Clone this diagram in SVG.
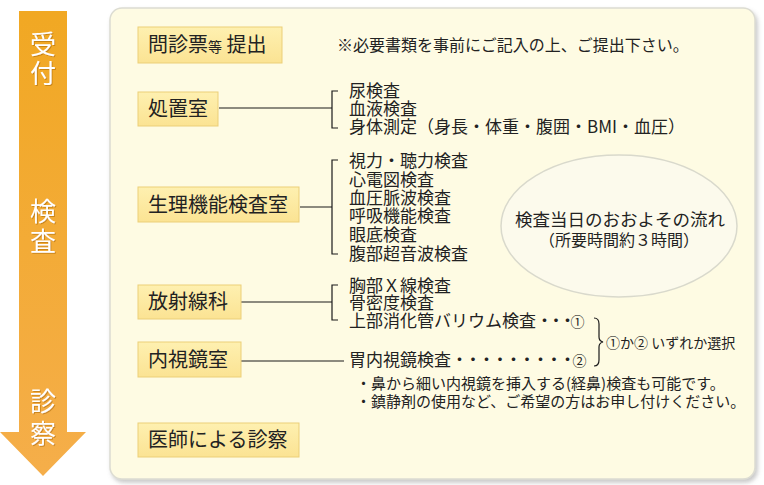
<svg xmlns="http://www.w3.org/2000/svg" width="764" height="485" viewBox="0 0 764 485">
<defs>
<linearGradient id="arrowGrad" x1="0" y1="0" x2="0" y2="1">
<stop offset="0" stop-color="#F1A823"/>
<stop offset="1" stop-color="#F5AE4A"/>
</linearGradient>
<linearGradient id="boxGrad" x1="0" y1="0" x2="0" y2="1">
<stop offset="0" stop-color="#FEF0B0"/>
<stop offset="1" stop-color="#FBE393"/>
</linearGradient>
<filter id="panelShadow" x="-5%" y="-5%" width="110%" height="110%">
<feDropShadow dx="2" dy="3" stdDeviation="2" flood-color="#888" flood-opacity="0.45"/>
</filter>
<filter id="txtShadow" x="-20%" y="-20%" width="140%" height="140%">
<feDropShadow dx="1" dy="1" stdDeviation="0.6" flood-color="#A06000" flood-opacity="0.5"/>
</filter>
</defs>
<style>
text{font-family:"Noto Sans CJK JP","Noto Sans CJK SC",sans-serif;fill:#222;}
.box{fill:url(#boxGrad);stroke:#EBCF78;stroke-width:1;}
.bt{font-size:20px;}
.lt{font-size:17px;}
.nt{font-size:15px;}
.ct{font-size:14px;}
.at{font-size:26px;fill:#fff;text-anchor:middle;}
.ln{stroke:#1a1a1a;stroke-width:1.2;fill:none;}
</style>
<rect width="764" height="485" fill="#ffffff"/>
<g id="flow-arrow">
<path d="M19 11 H67 V432 H86 L43 476 L0 432 H19 Z" fill="url(#arrowGrad)"/>
<g filter="url(#txtShadow)">
<text class="at" x="43" y="54">受</text>
<text class="at" x="43" y="83">付</text>
<text class="at" x="43" y="221">検</text>
<text class="at" x="43" y="251">査</text>
<text class="at" x="43" y="411">診</text>
<text class="at" x="43" y="443">察</text>
</g>
</g>
<g id="panel">
<rect x="110" y="8" width="645" height="471" rx="12" fill="#FEFBE3" stroke="#DCDCD2" stroke-width="1.5" filter="url(#panelShadow)"/>
</g>
<g id="ellipse-note">
<ellipse cx="619" cy="226" rx="118" ry="71" fill="#FCFAEC" stroke="#D9D9CC" stroke-width="1.5"/>
<text x="620" y="226" text-anchor="middle" style="font-size:17.5px">検査当日のおおよその流れ</text>
<text x="619" y="246" text-anchor="middle" style="font-size:16px">（所要時間約３時間）</text>
</g>
<g id="connectors">
<path class="ln" d="M219 108 H332 M338 91 H332 V128 H338"/>
<path class="ln" d="M300 207 H332 M338 160 H332 V254 H338"/>
<path class="ln" d="M241 302 H332 M338 285 H332 V320 H338"/>
<path class="ln" d="M241 361 H344"/>
<path class="ln" d="M594 318 Q599 318 599 324 V337 Q599 341 603 342 Q599 343 599 347 V360 Q599 366 594 366" stroke-width="1.5"/>
</g>
<g id="node-monshin">
<rect class="box" x="138" y="27" width="144" height="36"/>
<text class="bt" x="148" y="52">問診票<tspan style="font-size:14px">等</tspan> 提出</text>
</g>
<text style="font-size:16px" x="337" y="51">※必要書類を事前にご記入の上、ご提出下さい。</text>
<g id="node-shochi">
<rect class="box" x="138" y="92" width="80" height="34"/>
<text class="bt" x="148" y="116">処置室</text>
</g>
<g id="list-shochi">
<text class="lt" x="349" y="97">尿検査</text>
<text class="lt" x="349" y="115">血液検査</text>
<text class="lt" x="349" y="133">身体測定（身長・体重・腹囲・BMI・血圧）</text>
</g>
<g id="node-seiri">
<rect class="box" x="138" y="187" width="161" height="35"/>
<text class="bt" x="148" y="212">生理機能検査室</text>
</g>
<g id="list-seiri">
<text class="lt" x="349" y="167">視力・聴力検査</text>
<text class="lt" x="349" y="186">心電図検査</text>
<text class="lt" x="349" y="204">血圧脈波検査</text>
<text class="lt" x="349" y="222">呼吸機能検査</text>
<text class="lt" x="349" y="241">眼底検査</text>
<text class="lt" x="349" y="260">腹部超音波検査</text>
</g>
<g id="node-hoshasen">
<rect class="box" x="138" y="285" width="103" height="34"/>
<text class="bt" x="148" y="309">放射線科</text>
</g>
<g id="list-hoshasen">
<text class="lt" x="349" y="292">胸部Ｘ線検査</text>
<text class="lt" x="349" y="309">骨密度検査</text>
<text class="lt" x="349" y="327">上部消化管バリウム検査<tspan textLength="40" lengthAdjust="spacing">・・・</tspan><tspan class="ct">①</tspan></text>
</g>
<g id="node-naishikyo">
<rect class="box" x="138" y="342" width="103" height="35"/>
<text class="bt" x="148" y="367">内視鏡室</text>
</g>
<g id="list-naishikyo">
<text class="lt" x="349" y="366">胃内視鏡検査<tspan textLength="125" lengthAdjust="spacing">・・・・・・・・・</tspan><tspan class="ct">②</tspan></text>
<text class="nt" x="356" y="389">・鼻から細い内視鏡を挿入する(経鼻)検査も可能です。</text>
<text class="nt" x="356" y="407">・鎮静剤の使用など、ご希望の方はお申し付けください。</text>
</g>
<text class="ct" x="606" y="348">①か② いずれか選択</text>
<g id="node-shinsatsu">
<rect class="box" x="138" y="423" width="161" height="34"/>
<text class="bt" x="148" y="447">医師による診察</text>
</g>
</svg>
